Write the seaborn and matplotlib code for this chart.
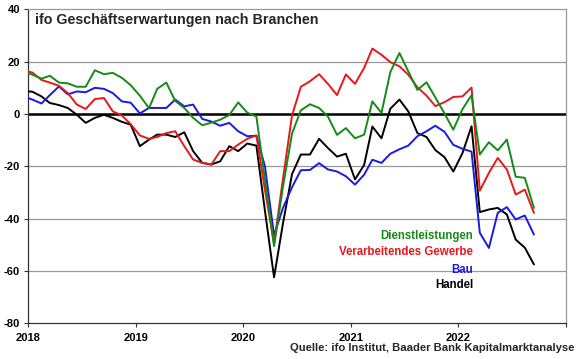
import pandas as pd
import numpy as np
import matplotlib
matplotlib.use("Agg")
from matplotlib import pyplot as plt
import seaborn as sns

# monthly values, Dec 2017 .. Sep 2022
months = pd.date_range("2017-12-01", "2022-09-01", freq="MS") + pd.Timedelta(days=14)

dienstleistungen = [16.5,
    15, 13.5, 14.6, 12, 11.7, 10.4, 10.4, 16.7, 15.2, 15.7, 13.8, 11,
    7, 2.2, 9.6, 12, 5, 2.3, -1.5, -4.3, -3.3, -2.2, -0.4, 4.4,
    0.5, -1, -25, -50.5, -28, -7.5, 1.4, 3.7, 2.3, -1, -8, -5.4,
    -9.3, -7.9, 4.8, 0.4, 16, 23.3, 16.3, 9.2, 12.1, 6.3, 0.2, -6,
    1.8, 7.2, -15.5, -10.8, -13.9, -9.8, -24, -24.4, -35.9]

verarbeitendes_gewerbe = [16.8,
    15.8, 13, 12, 10.8, 8, 3.6, 1.9, 5.7, 6.1, 1, -0.6, -3.9,
    -8.2, -9.5, -8.8, -7.3, -6.6, -12.3, -17.4, -18.7, -19.3, -14.2, -14.2, -11.7,
    -9.5, -8.2, -29, -49.5, -25, -0.6, 10.4, 12.5, 15.2, 11.5, 7.2, 15.1,
    11.5, 17.6, 25, 22.6, 19.8, 18.2, 15, 10.2, 7, 3, 4.5, 6.5,
    6.7, 10.1, -29.3, -22.5, -16.8, -21.2, -30.8, -28.9, -37.8]

bau = [6.7,
    5.5, 4, 7.2, 10.5, 7.5, 8.6, 8.3, 10, 9.6, 8, 4.8, 4.3,
    0.2, 2.3, 2.3, 2.3, 5.5, 2.9, 3.6, -1.9, -2.9, -4.5, -3.4, -6.6,
    -8.5, -8.3, -20, -46.4, -36, -28, -21.5, -21.4, -18.8, -21.2, -22, -23.8,
    -27, -23.2, -17.5, -18.7, -15.2, -13.5, -12.1, -8.5, -6.6, -4.5, -6.8, -11.8,
    -13.3, -14.4, -45.4, -51.2, -37.8, -35.6, -40.3, -38.8, -46.1]

handel = [8.8,
    8.5, 6.7, 4.2, 3.4, 2.3, -0.3, -3.4, -1.5, -0.3, -1.5, -3, -4.1,
    -12.3, -9.8, -7.9, -7.9, -8.8, -7, -14.2, -18.7, -19.3, -18.1, -12.3, -14.2,
    -11.3, -12.1, -37, -62.4, -42, -23, -15.5, -15.5, -9.5, -13, -16.3, -15.2,
    -25, -19.5, -4.8, -9.3, 2, 5.5, 1, -7.3, -8.8, -13.8, -16.5, -22,
    -15, -4.7, -37.5, -36.5, -35.9, -38.4, -48, -51.1, -57.5]

series_names = ["Dienstleistungen", "Verarbeitendes Gewerbe", "Bau", "Handel"]
colors = ["#168a16", "#e8171c", "#1a1ae0", "#000000"]
years = [2018, 2019, 2020, 2021, 2022, 2023]
yticks = [-80, -60, -40, -20, 0, 20, 40]

df = pd.DataFrame({"Monat": months,
                   "Dienstleistungen": dienstleistungen,
                   "Verarbeitendes Gewerbe": verarbeitendes_gewerbe,
                   "Bau": bau,
                   "Handel": handel})
long = df.melt(id_vars="Monat", var_name="Branche", value_name="Wert")

sns.set_style("white")
plt.rcParams["font.family"] = ["Liberation Sans", "DejaVu Sans"]
plt.rcParams["font.weight"] = "bold"

fig = plt.figure(figsize=(5.8, 3.59), dpi=100)
ax = fig.add_axes([0.0488, 0.0994, 0.9266, 0.8747])

for y in [20, -20, -40, -60]:
    ax.axhline(y, color="#999999", lw=0.9, zorder=1)
ax.axhline(0, color="black", lw=1.8, zorder=1)

# reverse order so green/red end up on top
sns.lineplot(data=long, x="Monat", y="Wert", hue="Branche",
             hue_order=series_names[::-1], palette=colors[::-1],
             lw=1.4, legend=False, ax=ax, zorder=3)

ax.set_xlim(pd.Timestamp("2018-01-01"), pd.Timestamp("2023-01-01"))
ax.set_ylim(-80, 40)
ax.set_xticks([pd.Timestamp(f"{y}-01-01") for y in years])
ax.set_xticklabels([str(y) for y in years[:-1]] + [""])
ax.set_yticks(yticks)
ax.set_yticklabels([str(v) for v in yticks])
ax.set_xlabel("")
ax.set_ylabel("")
ax.tick_params(axis="both", direction="out", length=3, width=0.8,
               colors="#333333", labelcolor="black", labelsize=8)
ax.tick_params(axis="x", pad=4)
ax.tick_params(axis="y", pad=3)
ax.tick_params(bottom=True, left=True)

for side in ["top", "right"]:
    ax.spines[side].set_color("#999999")
    ax.spines[side].set_linewidth(0.9)
for side in ["left", "bottom"]:
    ax.spines[side].set_color("#333333")
    ax.spines[side].set_linewidth(0.9)

ax.text(0.012, 0.966, "ifo Geschäftserwartungen nach Branchen",
        transform=ax.transAxes, fontsize=10.3, fontweight="bold",
        ha="left", va="center")

legend_y = [0.277, 0.226, 0.17, 0.122]
for name, c, ly in zip(series_names, colors, legend_y):
    ax.text(0.828, ly, name, transform=ax.transAxes, color=c,
            fontsize=8.3, fontweight="bold", ha="right", va="center")

fig.text(0.991, 0.03, "Quelle: ifo Institut, Baader Bank Kapitalmarktanalyse",
         fontsize=8.1, fontweight="bold", ha="right", va="center")

fig.savefig("out.png", dpi=100)
